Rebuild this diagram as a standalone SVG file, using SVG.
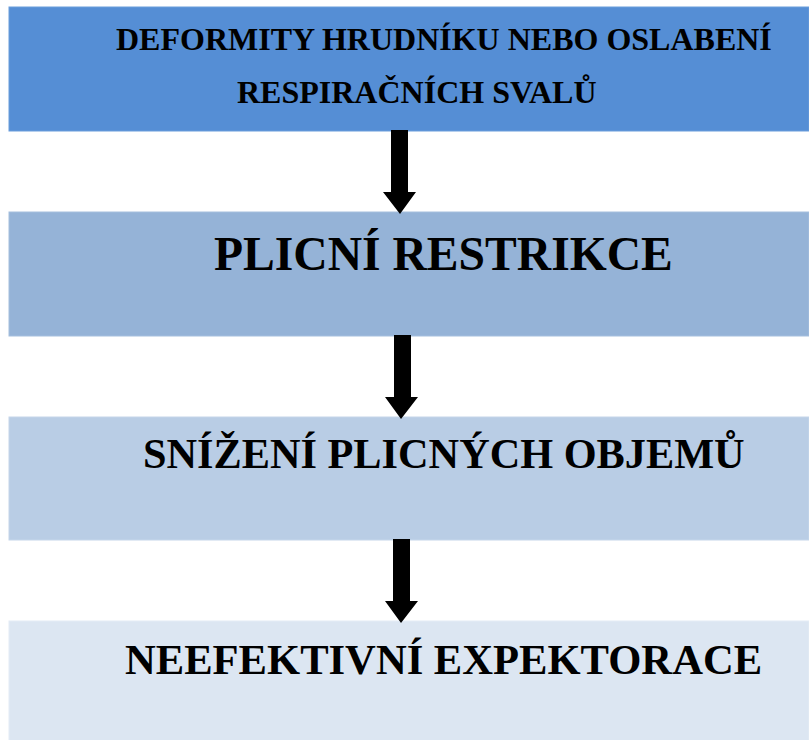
<svg xmlns="http://www.w3.org/2000/svg" width="809" height="740" viewBox="0 0 809 740">
<style>
.t{font-family:"Liberation Serif","Times New Roman",serif;font-weight:bold;fill:#000}
.arr{fill:#000}
</style>
<rect width="809" height="740" fill="#fff"/>
<g id="node1">
<rect x="9" y="7" width="800" height="124" fill="#558ED5" stroke="#6A9DDB" stroke-width="1"/>
<text class="t" x="116" y="50" font-size="32">DEFORMITY HRUDNÍKU NEBO OSLABENÍ</text>
<text class="t" x="237" y="103" font-size="32">RESPIRAČNÍCH SVALŮ</text>
</g>
<g id="node2">
<rect x="9" y="212" width="800" height="124" fill="#95B3D7" stroke="#A5BFDE" stroke-width="1"/>
<text class="t" x="214" y="270" font-size="47.6">PLICNÍ RESTRIKCE</text>
</g>
<g id="node3">
<rect x="9" y="417" width="800" height="123" fill="#B9CDE5" stroke="#C5D6EA" stroke-width="1"/>
<text class="t" x="143" y="468" font-size="42.3">SNÍŽENÍ PLICNÝCH OBJEMŮ</text>
</g>
<g id="node4">
<rect x="9" y="621" width="800" height="125" fill="#DCE6F2" stroke="#E4ECF5" stroke-width="1"/>
<text class="t" x="125" y="674" font-size="42.6">NEEFEKTIVNÍ EXPEKTORACE</text>
</g>
<g id="connectors">
<polygon class="arr" points="391,130 408,130 408,192 416,192 400,214 383,192 391,192"/>
<polygon class="arr" points="394,335 411,335 411,397 418,397 401,419 385,397 394,397"/>
<polygon class="arr" points="393,539 410,539 410,601 418,601 401,623 385,601 393,601"/>
</g>
</svg>
